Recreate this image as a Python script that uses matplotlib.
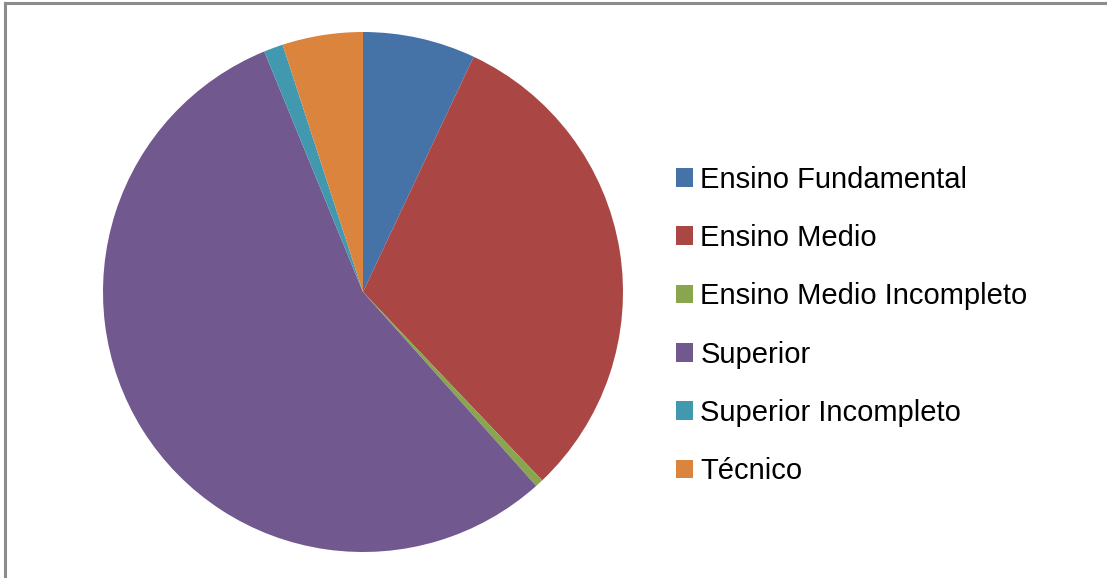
import matplotlib
matplotlib.use("Agg")
import matplotlib.pyplot as plt
from matplotlib.lines import Line2D
from matplotlib.patches import Patch

# data (percent of respondents)
labels = ['Ensino Fundamental', 'Ensino Medio', 'Ensino Medio Incompleto',
          'Superior', 'Superior Incompleto', 'Técnico']
values = [7.0, 30.9, 0.5, 55.4, 1.2, 5.0]
colors = ['#4572A7', '#AA4643', '#89A54E', '#71588F', '#4198AF', '#DB843D']

plt.rcParams['font.family'] = ['Liberation Sans', 'DejaVu Sans']

W, H = 1107, 578
fig = plt.figure(figsize=(W / 100, H / 100), dpi=100)

# pie: centre ~(363, 292) px, radius ~260 px
cx, cy, r = 363, 292, 260
ax = fig.add_axes([(cx - r) / W, (H - cy - r) / H, 2 * r / W, 2 * r / H])
ax.pie(values, colors=colors, startangle=90, counterclock=False,
       radius=1, wedgeprops={'linewidth': 0})
ax.set_xlim(-1, 1)
ax.set_ylim(-1, 1)
ax.set_aspect('equal')
ax.axis('off')

handles = [Patch(facecolor=c, edgecolor='none') for c in colors]
fig.legend(handles, labels, loc='upper left', bbox_to_anchor=(664 / W, 1 - 154 / H),
           frameon=False, fontsize=21, handlelength=0.6, handleheight=0.6,
           handletextpad=0.25, labelspacing=1.04, borderaxespad=0)

# outer frame (top and left edges only visible)
fig.add_artist(Line2D([4.5 / W, 4.5 / W], [0, 1 - 3 / H], color='#8c8c8c', lw=2.2,
                      transform=fig.transFigure))
fig.add_artist(Line2D([4.5 / W, 1], [1 - 3 / H, 1 - 3 / H], color='#8c8c8c', lw=2.2,
                      transform=fig.transFigure))

fig.savefig('out.png', dpi=100)
